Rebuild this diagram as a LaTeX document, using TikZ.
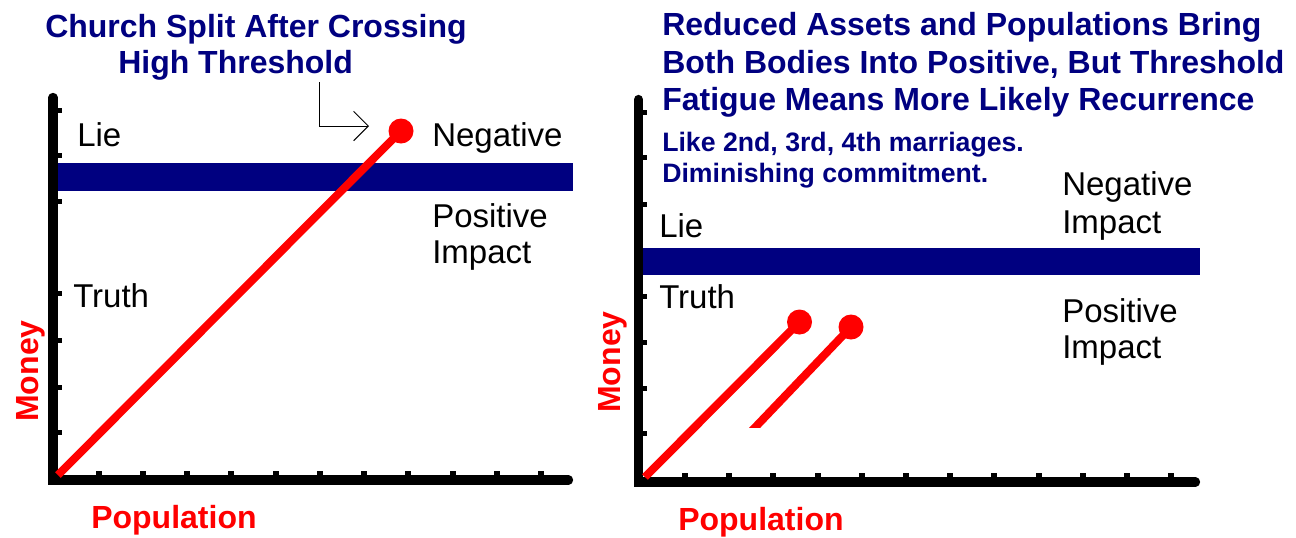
\documentclass[tikz,border=0pt]{standalone}
\usepackage{fontspec}
\setmainfont{Liberation Sans}
\usetikzlibrary{arrows.meta}
\definecolor{navyb}{RGB}{0,0,128}
\begin{document}
\begin{tikzpicture}[x=0.75pt,y=-0.75pt,
  title/.style={anchor=base west, inner sep=0, text=navyb, font=\bfseries\fontsize{24}{28}\selectfont},
  note/.style={anchor=base west, inner sep=0, text=navyb, font=\bfseries\fontsize{20}{24}\selectfont},
  lbl/.style={anchor=base west, inner sep=0, text=black, font=\fontsize{24.75}{30}\selectfont},
  axlbl/.style={anchor=base west, inner sep=0, text=red, font=\bfseries\fontsize{24}{28}\selectfont},
  axisline/.style={line width=7pt, line cap=round, line join=miter, black},
  plotline/.style={red, line width=6pt},
  dot/.style={circle, fill=red, draw=none, inner sep=0, minimum size=18.75pt},
  bar/.style={fill=navyb},
  pointer/.style={black, line width=0.75pt, -{Straight Barb[length=11pt,width=22pt,line width=0.75pt]}}
]
\useasboundingbox (0,0) rectangle (1296,537);

% ---------- LEFT CHART ----------
\fill[bar] (57,163) rectangle (573,191);
\draw[axisline] (53,97.5) -- (53,480) -- (568.5,480);
\foreach \y in {110,155,201,293,340,387,432}
  \fill (57,\y-2.5) rectangle (62,\y+2.5);
\foreach \i in {0,...,10}
  \fill ({98.5+44.25*\i-3},471) rectangle ({98.5+44.25*\i+3},476);

\coordinate (lo) at (58,475);
\node[dot] (dA) at (401,131) {};
\draw[plotline] (lo) -- (dA.center);

\node[title] (t1) at (45,37) {Church Split After Crossing};
\node[title] (t2) at (118,73) {High Threshold};
\coordinate (pstart) at (319,82);
\coordinate (ptip) at (369,126);
\draw[pointer] (pstart) |- (ptip);

\node[lbl] (lie1) at (77,146) {Lie};
\node[lbl] (neg1) at (432,146) {Negative};
\node[lbl] (pos1) at (432,227) {Positive};
\node[lbl] (imp1) at (432,263) {Impact};
\node[lbl] (tru1) at (73,307) {Truth};
\node[axlbl] (pop1) at (91,528) {Population};
\node[axlbl, rotate=90] (mon1) at (38,422) {Money};

% ---------- RIGHT CHART ----------
\fill[bar] (643,248) rectangle (1200,275);
\draw[axisline] (638.5,99.5) -- (638.5,482) -- (1195.5,482);
\foreach \y in {112,157,204,296,342,388,433}
  \fill (642,\y-2.5) rectangle (647,\y+2.5);
\foreach \i in {0,...,11}
  \fill ({685+44.2*\i-3},473) rectangle ({685+44.2*\i+3},478);

\coordinate (ro) at (645,477);
\node[dot] (dB) at (799.5,322) {};
\node[dot] (dC) at (851,327) {};
\coordinate (rs) at (750.5,432.2);
\draw[plotline] (ro) -- (dB.center);
\begin{scope}
  \clip (600,0) rectangle (1296,427);
  \draw[plotline] (rs) -- (dC.center);
\end{scope}

\node[title] (r1) at (662,35) {Reduced Assets and Populations Bring};
\node[title] (r2) at (662,73) {Both Bodies Into Positive, But Threshold};
\node[title] (r3) at (662,110) {Fatigue Means More Likely Recurrence};
\node[note] (n1) at (662,151) {Like 2nd, 3rd, 4th marriages.};
\node[note] (n2) at (662,182) {Diminishing commitment.};

\node[lbl] (neg2) at (1062,195) {Negative};
\node[lbl] (imp2) at (1062,233) {Impact};
\node[lbl] (lie2) at (659,237) {Lie};
\node[lbl] (tru2) at (659,308) {Truth};
\node[lbl] (pos2) at (1062,322) {Positive};
\node[lbl] (imp3) at (1062,358) {Impact};
\node[axlbl] (pop2) at (678,530) {Population};
\node[axlbl, rotate=90] (mon2) at (620,413) {Money};
\end{tikzpicture}
\end{document}
